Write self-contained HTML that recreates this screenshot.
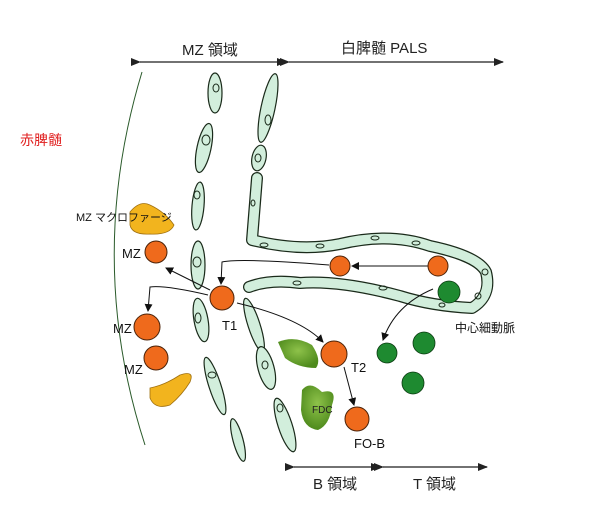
<!DOCTYPE html>
<html><head><meta charset="utf-8"><style>
html,body{margin:0;padding:0;background:#fff;}
svg{display:block;}
text{font-family:"Liberation Sans","Noto Sans CJK JP",sans-serif;}
</style></head><body>
<svg width="601" height="523" viewBox="0 0 601 523" xmlns="http://www.w3.org/2000/svg">
<defs>
<marker id="a" markerWidth="8" markerHeight="8" refX="7" refY="4" orient="auto" markerUnits="userSpaceOnUse"><path d="M0,0 L8,4 L0,8 Z" fill="#111"/></marker>
<marker id="g" markerWidth="10" markerHeight="8" refX="9" refY="4" orient="auto" markerUnits="userSpaceOnUse"><path d="M0,0 L10,4 L0,8 Z" fill="#222"/></marker>
<radialGradient id="gr" cx="50%" cy="40%" r="60%"><stop offset="0" stop-color="#8ec24a"/><stop offset="1" stop-color="#4e8a1c"/></radialGradient>
</defs>
<text x="182" y="55" font-size="15" fill="#222">MZ 領域</text>
<text x="341" y="53" font-size="15" fill="#222">白脾髄 PALS</text>
<line x1="140" y1="62" x2="286" y2="62" stroke="#444" stroke-width="1.5" marker-start="url(#g)" marker-end="url(#g)"/>
<line x1="289" y1="62" x2="503" y2="62" stroke="#444" stroke-width="1.5" marker-start="url(#g)" marker-end="url(#g)"/>
<text x="20" y="145" font-size="14" fill="#e02020">赤脾髄</text>
<path d="M142,72 Q85,260 145,445" fill="none" stroke="#2a5a2a" stroke-width="1"/>
<g fill="#d2eedc" stroke="#1a2a1a" stroke-width="1.2">
<ellipse cx="215" cy="93" rx="7" ry="20"/>
<ellipse cx="204" cy="148" rx="7" ry="25" transform="rotate(12 204 148)"/>
<ellipse cx="198" cy="206" rx="6" ry="24" transform="rotate(5 198 206)"/>
<ellipse cx="198" cy="265" rx="7" ry="24"/>
<ellipse cx="201" cy="320" rx="7" ry="22" transform="rotate(-10 201 320)"/>
<ellipse cx="215" cy="386" rx="6" ry="30" transform="rotate(-18 215 386)"/>
<ellipse cx="238" cy="440" rx="5" ry="22" transform="rotate(-15 238 440)"/>
<ellipse cx="268" cy="108" rx="7" ry="35" transform="rotate(12 268 108)"/>
<ellipse cx="259" cy="158" rx="7" ry="13" transform="rotate(12 259 158)"/>
<ellipse cx="254" cy="325" rx="6" ry="28" transform="rotate(-18 254 325)"/>
<ellipse cx="266" cy="368" rx="8" ry="22" transform="rotate(-15 266 368)"/>
<ellipse cx="285" cy="425" rx="7" ry="28" transform="rotate(-18 285 425)"/>
</g>
<path d="M257,178 L252,240 Q300,252 340,244 Q390,232 430,246 Q478,256 486,272 Q492,296 472,308 Q432,306 400,296 Q340,280 300,283 Q270,279 249,287" fill="none" stroke="#1a2a1a" stroke-width="12" stroke-linejoin="round" stroke-linecap="round"/>
<path d="M257,178 L252,240 Q300,252 340,244 Q390,232 430,246 Q478,256 486,272 Q492,296 472,308 Q432,306 400,296 Q340,280 300,283 Q270,279 249,287" fill="none" stroke="#d2eedc" stroke-width="9.5" stroke-linejoin="round" stroke-linecap="round"/>
<g fill="none" stroke="#1a2a1a" stroke-width="1">
<ellipse cx="216" cy="88" rx="3" ry="4"/><ellipse cx="206" cy="140" rx="4" ry="5"/><ellipse cx="197" cy="195" rx="3" ry="4"/><ellipse cx="197" cy="262" rx="4" ry="5"/><ellipse cx="198" cy="318" rx="3" ry="5"/>
<ellipse cx="268" cy="120" rx="3" ry="5"/><ellipse cx="258" cy="158" rx="3" ry="4"/><ellipse cx="253" cy="203" rx="2" ry="3"/>
<ellipse cx="264" cy="245" rx="4" ry="2"/><ellipse cx="320" cy="246" rx="4" ry="2"/><ellipse cx="375" cy="238" rx="4" ry="2"/><ellipse cx="416" cy="243" rx="4" ry="2"/>
<ellipse cx="297" cy="283" rx="4" ry="2"/><ellipse cx="383" cy="288" rx="4" ry="2"/><ellipse cx="485" cy="272" rx="3" ry="3"/><ellipse cx="478" cy="296" rx="3" ry="3"/><ellipse cx="442" cy="305" rx="3" ry="2"/>
<ellipse cx="265" cy="365" rx="3" ry="4"/><ellipse cx="280" cy="408" rx="3" ry="4"/><ellipse cx="212" cy="375" rx="4" ry="3"/>
</g>
<path d="M130,212 Q140,200 150,205 Q165,212 174,225 Q170,235 150,234 Q132,235 130,225 Z" fill="#f2b41e" stroke="#a07010" stroke-width="0.8"/>
<text x="76" y="221" font-size="11" fill="#111">MZ マクロファージ</text>
<path d="M150,388 Q165,385 180,375 Q195,370 190,382 Q182,395 170,405 Q155,410 150,398 Z" fill="#f2b41e" stroke="#a07010" stroke-width="0.8"/>
<path d="M278,342 Q295,335 312,345 Q322,360 316,368 Q298,368 285,358 Z" fill="url(#gr)"/>
<path d="M302,390 Q310,380 322,392 Q338,388 332,405 Q330,425 318,430 Q303,428 301,410 Z" fill="url(#gr)"/>
<text x="312" y="413" font-size="10" fill="#222">FDC</text>
<g fill="none" stroke="#111" stroke-width="1" marker-end="url(#a)">
<path d="M428,266 L352,266"/>
<path d="M329,265 Q240,258 222,262 L221,284"/>
<path d="M210,290 L166,268"/>
<path d="M208,295 Q165,285 150,287 L148,311"/>
<path d="M237,303 Q300,318 323,342"/>
<path d="M344,367 L354,405"/>
<path d="M433,289 Q395,305 383,340"/>
</g>
<g fill="#ef6a1c" stroke="#4a2208" stroke-width="1">
<circle cx="156" cy="252" r="11"/><circle cx="147" cy="327" r="13"/><circle cx="156" cy="358" r="12"/>
<circle cx="222" cy="298" r="12"/><circle cx="334" cy="354" r="13"/><circle cx="357" cy="419" r="12"/>
<circle cx="340" cy="266" r="10"/><circle cx="438" cy="266" r="10"/>
</g>
<g fill="#1e8a30" stroke="#0a3a10" stroke-width="0.8">
<circle cx="449" cy="292" r="11"/><circle cx="387" cy="353" r="10"/><circle cx="424" cy="343" r="11"/><circle cx="413" cy="383" r="11"/>
</g>
<g font-size="13" fill="#111">
<text x="122" y="258">MZ</text><text x="113" y="333">MZ</text><text x="124" y="374">MZ</text>
<text x="222" y="330">T1</text><text x="351" y="372">T2</text><text x="354" y="448">FO-B</text>
</g>
<text x="455" y="332" font-size="12" fill="#111">中心細動脈</text>
<line x1="294" y1="467" x2="380" y2="467" stroke="#444" stroke-width="1.5" marker-start="url(#g)" marker-end="url(#g)"/>
<line x1="383" y1="467" x2="487" y2="467" stroke="#444" stroke-width="1.5" marker-start="url(#g)" marker-end="url(#g)"/>
<text x="313" y="489" font-size="15" fill="#222">B 領域</text>
<text x="413" y="489" font-size="15" fill="#222">T 領域</text>
</svg>
</body></html>
